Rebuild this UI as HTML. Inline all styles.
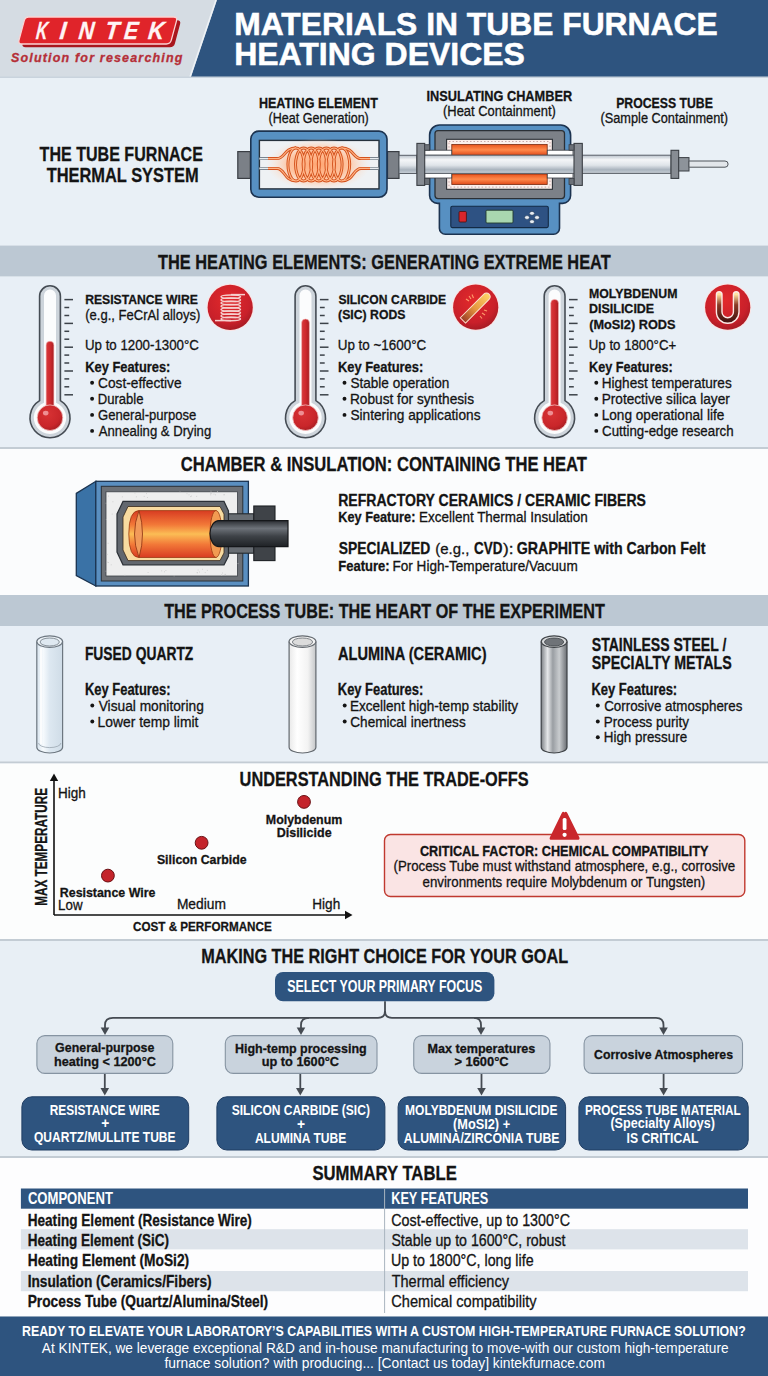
<!DOCTYPE html>
<html><head><meta charset="utf-8"><title>Materials in Tube Furnace Heating Devices</title>
<style>
html,body{margin:0;padding:0;background:#e9eff5;}
body{width:768px;height:1376px;overflow:hidden;}
svg{display:block;font-family:"Liberation Sans",sans-serif;}
</style></head><body>
<svg width="768" height="1376" viewBox="0 0 768 1376" fill="#141414">
<defs>
<linearGradient id="tubeG" x1="0" y1="0" x2="0" y2="1">
<stop offset="0" stop-color="#b9c2cb"/><stop offset="0.25" stop-color="#f4f6f8"/><stop offset="0.55" stop-color="#dfe4e9"/><stop offset="0.8" stop-color="#a9b3bd"/><stop offset="1" stop-color="#c9d0d7"/>
</linearGradient>
<linearGradient id="orangeBand" x1="0" y1="0" x2="0" y2="1">
<stop offset="0" stop-color="#e8541e"/><stop offset="0.5" stop-color="#ff8a4c"/><stop offset="1" stop-color="#e04a1a"/>
</linearGradient>
<radialGradient id="glow" cx="0.5" cy="0.5" r="0.5">
<stop offset="0" stop-color="#ffa673" stop-opacity="1"/><stop offset="0.55" stop-color="#ffc09a" stop-opacity="0.95"/><stop offset="1" stop-color="#ffe0cc" stop-opacity="0"/>
</radialGradient>
<linearGradient id="cyl" x1="0" y1="0" x2="0" y2="1">
<stop offset="0" stop-color="#d83c22"/><stop offset="0.3" stop-color="#f27838"/><stop offset="0.5" stop-color="#fbbd55"/><stop offset="0.72" stop-color="#f27838"/><stop offset="1" stop-color="#d83c22"/>
</linearGradient>
<linearGradient id="darkTube" x1="0" y1="0" x2="0" y2="1">
<stop offset="0" stop-color="#2b2e33"/><stop offset="0.3" stop-color="#6d7279"/><stop offset="0.6" stop-color="#3e4247"/><stop offset="1" stop-color="#1f2226"/>
</linearGradient>
<linearGradient id="steelG" x1="0" y1="0" x2="1" y2="0">
<stop offset="0" stop-color="#7d8186"/><stop offset="0.25" stop-color="#e6e8ea"/><stop offset="0.45" stop-color="#9a9ea3"/><stop offset="0.7" stop-color="#c9cccf"/><stop offset="1" stop-color="#6a6e73"/>
</linearGradient>
<linearGradient id="alumG" x1="0" y1="0" x2="1" y2="0">
<stop offset="0" stop-color="#e9e9e9"/><stop offset="0.3" stop-color="#ffffff"/><stop offset="0.7" stop-color="#f3f3f3"/><stop offset="1" stop-color="#c4c6c8"/>
</linearGradient>
<linearGradient id="quartzG" x1="0" y1="0" x2="1" y2="0">
<stop offset="0" stop-color="#d8e4ee"/><stop offset="0.25" stop-color="#f6fafd"/><stop offset="0.5" stop-color="#dde8f1"/><stop offset="1" stop-color="#cfdce7"/>
</linearGradient>
<linearGradient id="thR" x1="0" y1="0" x2="1" y2="0"><stop offset="0" stop-color="#d63a3c"/><stop offset="0.5" stop-color="#cf2a2e"/><stop offset="1" stop-color="#a81e22"/></linearGradient>
<radialGradient id="thB" cx="0.4" cy="0.35" r="0.7"><stop offset="0" stop-color="#d83234"/><stop offset="0.7" stop-color="#c9262a"/><stop offset="1" stop-color="#a51d21"/></radialGradient>
<radialGradient id="redIcon" cx="0.45" cy="0.35" r="0.7">
<stop offset="0" stop-color="#e2292b"/><stop offset="0.7" stop-color="#c9202a"/><stop offset="1" stop-color="#9e1a22"/>
</radialGradient>
<linearGradient id="uG" x1="0" y1="0" x2="0" y2="1">
<stop offset="0" stop-color="#ffe3a0"/><stop offset="0.4" stop-color="#8a3a26"/><stop offset="1" stop-color="#4a1612"/>
</linearGradient>
<linearGradient id="rodG" x1="0" y1="0" x2="1" y2="0">
<stop offset="0" stop-color="#9c3d26"/><stop offset="0.45" stop-color="#e4963f"/><stop offset="1" stop-color="#ffd468"/>
</linearGradient>
</defs>

<rect x="0" y="0" width="768.00" height="78.00" fill="#d5dce3" />
<polygon points="217,0 768,0 768,77 191,77" fill="#2e547f"/>
<line x1="216" y1="0" x2="190" y2="77" stroke="#eef2f6" stroke-width="1.5"/>
<rect x="0" y="77" width="768.00" height="168.00" fill="#e9f0f6" />
<rect x="0" y="76.5" width="768.00" height="1.50" fill="#c9d3dd" />
<rect x="0" y="245.6" width="768.00" height="31.00" fill="#bcc8d3" />
<rect x="0" y="276.6" width="768.00" height="170.40" fill="#e8eff6" />
<rect x="0" y="447" width="768.00" height="2.00" fill="#c3ccd4" />
<rect x="0" y="449" width="768.00" height="146.00" fill="#fbfcfd" />
<rect x="0" y="595" width="768.00" height="31.00" fill="#bcc8d3" />
<rect x="0" y="626" width="768.00" height="135.50" fill="#e8eff6" />
<rect x="0" y="761.5" width="768.00" height="2.00" fill="#c3ccd4" />
<rect x="0" y="763.5" width="768.00" height="175.50" fill="#fcfdfd" />
<rect x="0" y="939" width="768.00" height="2.00" fill="#c3ccd4" />
<rect x="0" y="941" width="768.00" height="215.00" fill="#e8eff5" />
<rect x="0" y="1156" width="768.00" height="2.00" fill="#c3ccd4" />
<rect x="0" y="1158" width="768.00" height="158.50" fill="#fdfdfe" />
<rect x="0" y="1316.5" width="768.00" height="59.50" fill="#2e547f" />
<path d="M28.7,17 L173.5,17 Q177.5,17 176.5,20.8 L171.3,40.2 Q170.3,44 166.3,44 L22,44 Q18,44 19,40.2 L24.2,20.8 Q25.2,17 28.7,17 Z" transform="translate(3.6,3.2)" fill="#a9161d"/>
<path d="M28.7,17 L173.5,17 Q177.5,17 176.5,20.8 L171.3,40.2 Q170.3,44 166.3,44 L22,44 Q18,44 19,40.2 L24.2,20.8 Q25.2,17 28.7,17 Z" fill="#e0242a" stroke="#fbd3d3" stroke-width="1.3"/>
<text x="35.5" y="38.7" font-size="24.71" font-weight="bold" font-style="italic" textLength="11.5" lengthAdjust="spacingAndGlyphs" fill="#fff4f4" stroke="#fff4f4" stroke-width="0.3" stroke="#fff4f4" stroke-width="0.5" transform="skewX(-6) translate(4.1,0)">K</text>
<text x="59.0" y="38.7" font-size="24.71" font-weight="bold" font-style="italic" textLength="6.5" lengthAdjust="spacingAndGlyphs" fill="#fff4f4" stroke="#fff4f4" stroke-width="0.3" stroke="#fff4f4" stroke-width="0.5" transform="skewX(-6) translate(4.1,0)">I</text>
<text x="78.0" y="38.7" font-size="24.71" font-weight="bold" font-style="italic" textLength="15.5" lengthAdjust="spacingAndGlyphs" fill="#fff4f4" stroke="#fff4f4" stroke-width="0.3" stroke="#fff4f4" stroke-width="0.5" transform="skewX(-6) translate(4.1,0)">N</text>
<text x="104.5" y="38.7" font-size="24.71" font-weight="bold" font-style="italic" textLength="14.0" lengthAdjust="spacingAndGlyphs" fill="#fff4f4" stroke="#fff4f4" stroke-width="0.3" stroke="#fff4f4" stroke-width="0.5" transform="skewX(-6) translate(4.1,0)">T</text>
<text x="123.5" y="38.7" font-size="24.71" font-weight="bold" font-style="italic" textLength="14.0" lengthAdjust="spacingAndGlyphs" fill="#fff4f4" stroke="#fff4f4" stroke-width="0.3" stroke="#fff4f4" stroke-width="0.5" transform="skewX(-6) translate(4.1,0)">E</text>
<text x="147.5" y="38.7" font-size="24.71" font-weight="bold" font-style="italic" textLength="16.0" lengthAdjust="spacingAndGlyphs" fill="#fff4f4" stroke="#fff4f4" stroke-width="0.3" stroke="#fff4f4" stroke-width="0.5" transform="skewX(-6) translate(4.1,0)">K</text>
<text x="11.0" y="61.8" font-size="12.50" font-weight="bold" font-style="italic" textLength="171.4" lengthAdjust="spacing" fill="#b52f38" stroke="#b52f38" stroke-width="0.3" >Solution for researching</text>
<text x="234.2" y="34.6" font-size="30.52" font-weight="bold" textLength="483.5" lengthAdjust="spacingAndGlyphs" fill="#ffffff" stroke="#ffffff" stroke-width="0.5">MATERIALS IN TUBE FURNACE</text>
<text x="234.2" y="65.2" font-size="30.81" font-weight="bold" textLength="290.7" lengthAdjust="spacingAndGlyphs" fill="#ffffff" stroke="#ffffff" stroke-width="0.5">HEATING DEVICES</text>
<text x="39.6" y="160.6" font-size="20.49" font-weight="bold" textLength="163.3" lengthAdjust="spacingAndGlyphs" stroke="#141414" stroke-width="0.3" >THE TUBE FURNACE</text>
<text x="46.7" y="182.2" font-size="20.93" font-weight="bold" textLength="151.9" lengthAdjust="spacingAndGlyphs" stroke="#141414" stroke-width="0.3" >THERMAL SYSTEM</text>
<text x="258.9" y="107.5" font-size="14.83" font-weight="bold" textLength="118.9" lengthAdjust="spacingAndGlyphs" stroke="#141414" stroke-width="0.3" >HEATING ELEMENT</text>
<text x="268.6" y="122.7" font-size="14.83" textLength="100.2" lengthAdjust="spacingAndGlyphs" stroke="#141414" stroke-width="0.3" >(Heat Generation)</text>
<text x="426.5" y="100.8" font-size="14.97" font-weight="bold" textLength="145.6" lengthAdjust="spacingAndGlyphs" stroke="#141414" stroke-width="0.3" >INSULATING CHAMBER</text>
<text x="443.0" y="116.2" font-size="14.83" textLength="112.8" lengthAdjust="spacingAndGlyphs" stroke="#141414" stroke-width="0.3" >(Heat Containment)</text>
<text x="616.2" y="107.5" font-size="14.83" font-weight="bold" textLength="96.7" lengthAdjust="spacingAndGlyphs" stroke="#141414" stroke-width="0.3" >PROCESS TUBE</text>
<text x="600.5" y="122.7" font-size="14.83" textLength="127.6" lengthAdjust="spacingAndGlyphs" stroke="#141414" stroke-width="0.3" >(Sample Containment)</text>
<text x="157.9" y="268.6" font-size="20.78" font-weight="bold" textLength="452.8" lengthAdjust="spacingAndGlyphs" stroke="#141414" stroke-width="0.3" >THE HEATING ELEMENTS: GENERATING EXTREME HEAT</text>
<text x="180.8" y="471.3" font-size="20.78" font-weight="bold" textLength="406.2" lengthAdjust="spacingAndGlyphs" stroke="#141414" stroke-width="0.3" >CHAMBER &amp; INSULATION: CONTAINING THE HEAT</text>
<text x="164.2" y="618.4" font-size="20.64" font-weight="bold" textLength="440.6" lengthAdjust="spacingAndGlyphs" stroke="#141414" stroke-width="0.3" >THE PROCESS TUBE: THE HEART OF THE EXPERIMENT</text>
<text x="239.6" y="785.6" font-size="20.49" font-weight="bold" textLength="289.0" lengthAdjust="spacingAndGlyphs" stroke="#141414" stroke-width="0.3" >UNDERSTANDING THE TRADE-OFFS</text>
<text x="201.2" y="963.1" font-size="20.49" font-weight="bold" textLength="366.9" lengthAdjust="spacingAndGlyphs" stroke="#141414" stroke-width="0.3" >MAKING THE RIGHT CHOICE FOR YOUR GOAL</text>
<text x="312.4" y="1180.3" font-size="20.35" font-weight="bold" textLength="144.4" lengthAdjust="spacingAndGlyphs" stroke="#141414" stroke-width="0.3" >SUMMARY TABLE</text>
<text x="85.2" y="304.2" font-size="13.66" font-weight="bold" textLength="112.6" lengthAdjust="spacingAndGlyphs" stroke="#141414" stroke-width="0.3" >RESISTANCE WIRE</text>
<text x="85.2" y="319.8" font-size="14.68" textLength="115.2" lengthAdjust="spacingAndGlyphs" stroke="#141414" stroke-width="0.3" >(e.g., FeCrAl alloys)</text>
<text x="85.0" y="350.2" font-size="14.68" textLength="113.9" lengthAdjust="spacingAndGlyphs" stroke="#141414" stroke-width="0.3" >Up to 1200-1300°C</text>
<text x="85.2" y="372.2" font-size="15.41" font-weight="bold" textLength="85.2" lengthAdjust="spacingAndGlyphs" stroke="#141414" stroke-width="0.3" >Key Features:</text>
<circle cx="92.1" cy="382.8" r="1.95" fill="#141414"/>
<text x="98.1" y="387.9" font-size="14.68" textLength="83.5" lengthAdjust="spacingAndGlyphs" stroke="#141414" stroke-width="0.3" >Cost-effective</text>
<circle cx="92.1" cy="398.8" r="1.95" fill="#141414"/>
<text x="97.7" y="403.9" font-size="14.68" textLength="45.8" lengthAdjust="spacingAndGlyphs" stroke="#141414" stroke-width="0.3" >Durable</text>
<circle cx="92.1" cy="414.9" r="1.95" fill="#141414"/>
<text x="98.1" y="420.0" font-size="14.68" textLength="98.2" lengthAdjust="spacingAndGlyphs" stroke="#141414" stroke-width="0.3" >General-purpose</text>
<circle cx="92.1" cy="430.9" r="1.95" fill="#141414"/>
<text x="98.8" y="436.0" font-size="14.68" textLength="112.4" lengthAdjust="spacingAndGlyphs" stroke="#141414" stroke-width="0.3" >Annealing &amp; Drying</text>
<text x="338.4" y="304.3" font-size="13.66" font-weight="bold" textLength="107.7" lengthAdjust="spacingAndGlyphs" stroke="#141414" stroke-width="0.3" >SILICON CARBIDE</text>
<text x="338.1" y="319.3" font-size="13.66" font-weight="bold" textLength="67.3" lengthAdjust="spacingAndGlyphs" stroke="#141414" stroke-width="0.3" >(SIC) RODS</text>
<text x="337.7" y="349.8" font-size="14.68" textLength="88.6" lengthAdjust="spacingAndGlyphs" stroke="#141414" stroke-width="0.3" >Up to ~1600°C</text>
<text x="337.9" y="372.2" font-size="15.41" font-weight="bold" textLength="85.4" lengthAdjust="spacingAndGlyphs" stroke="#141414" stroke-width="0.3" >Key Features:</text>
<circle cx="344.5" cy="382.8" r="1.95" fill="#141414"/>
<text x="350.4" y="387.9" font-size="14.68" textLength="98.9" lengthAdjust="spacingAndGlyphs" stroke="#141414" stroke-width="0.3" >Stable operation</text>
<circle cx="344.5" cy="398.8" r="1.95" fill="#141414"/>
<text x="349.9" y="403.9" font-size="14.68" textLength="124.1" lengthAdjust="spacingAndGlyphs" stroke="#141414" stroke-width="0.3" >Robust for synthesis</text>
<circle cx="344.5" cy="414.9" r="1.95" fill="#141414"/>
<text x="350.4" y="420.0" font-size="14.68" textLength="130.1" lengthAdjust="spacingAndGlyphs" stroke="#141414" stroke-width="0.3" >Sintering applications</text>
<text x="589.0" y="297.7" font-size="13.66" font-weight="bold" textLength="88.4" lengthAdjust="spacingAndGlyphs" stroke="#141414" stroke-width="0.3" >MOLYBDENUM</text>
<text x="589.0" y="313.3" font-size="13.66" font-weight="bold" textLength="65.2" lengthAdjust="spacingAndGlyphs" stroke="#141414" stroke-width="0.3" >DISILICIDE</text>
<text x="589.2" y="328.6" font-size="13.66" font-weight="bold" textLength="86.3" lengthAdjust="spacingAndGlyphs" stroke="#141414" stroke-width="0.3" >(MoSI2) RODS</text>
<text x="588.8" y="349.8" font-size="14.68" textLength="87.4" lengthAdjust="spacingAndGlyphs" stroke="#141414" stroke-width="0.3" >Up to 1800°C+</text>
<text x="589.0" y="372.2" font-size="15.41" font-weight="bold" textLength="83.8" lengthAdjust="spacingAndGlyphs" stroke="#141414" stroke-width="0.3" >Key Features:</text>
<circle cx="596.3" cy="382.8" r="1.95" fill="#141414"/>
<text x="601.7" y="387.9" font-size="14.68" textLength="130.0" lengthAdjust="spacingAndGlyphs" stroke="#141414" stroke-width="0.3" >Highest temperatures</text>
<circle cx="596.3" cy="398.8" r="1.95" fill="#141414"/>
<text x="601.7" y="403.9" font-size="14.68" textLength="128.1" lengthAdjust="spacingAndGlyphs" stroke="#141414" stroke-width="0.3" >Protective silica layer</text>
<circle cx="596.3" cy="414.9" r="1.95" fill="#141414"/>
<text x="601.7" y="420.0" font-size="14.68" textLength="122.6" lengthAdjust="spacingAndGlyphs" stroke="#141414" stroke-width="0.3" >Long operational life</text>
<circle cx="596.3" cy="430.9" r="1.95" fill="#141414"/>
<text x="602.1" y="436.0" font-size="14.68" textLength="131.5" lengthAdjust="spacingAndGlyphs" stroke="#141414" stroke-width="0.3" >Cutting-edge research</text>
<rect x="237.8" y="151.6" width="12.5" height="26.8" fill="#7b8087" stroke="#3a3e44" stroke-width="1.2"/>
<rect x="387.5" y="151.6" width="11.5" height="26.8" fill="#7b8087" stroke="#3a3e44" stroke-width="1.2"/>
<rect x="399" y="155.3" width="18" height="18.2" fill="url(#tubeG)" stroke="#5a6068" stroke-width="1"/>
<rect x="250.8" y="131.1" width="136.2" height="66.1" rx="8" fill="#5790c2" stroke="#1c3350" stroke-width="1.6"/>
<rect x="259.4" y="140.4" width="119.6" height="48.5" fill="#eef1f4" stroke="#26313c" stroke-width="1.4"/>
<ellipse cx="318.5" cy="164.5" rx="52" ry="26" fill="url(#glow)"/>
<path d="M259.5,158.6 L270,158.6 M259.5,168.4 L270,168.4 M368,158.6 L378.5,158.6 M368,168.4 L378.5,168.4" stroke="#7a848e" stroke-width="3" fill="none"/>
<path d="M259.5,158.6 L270,158.6 M259.5,168.4 L270,168.4 M368,158.6 L378.5,158.6 M368,168.4 L378.5,168.4" stroke="#e9edf1" stroke-width="1.1" fill="none"/>
<path d="M268,158.6 L277,158.6 C285,158.6 284,148 296,148 M268,168.4 L277,168.4 C285,168.4 284,181 296,181 M370,158.6 L361,158.6 C353,158.6 354,148 341.6,148 M370,168.4 L361,168.4 C353,168.4 354,181 341.6,181 M296.00,148 A8,16.5 0 1 0 296.01,148 M303.60,148 A8,16.5 0 1 0 303.61,148 M311.20,148 A8,16.5 0 1 0 311.21,148 M318.80,148 A8,16.5 0 1 0 318.81,148 M326.40,148 A8,16.5 0 1 0 326.41,148 M334.00,148 A8,16.5 0 1 0 334.01,148 M341.60,148 A8,16.5 0 1 0 341.61,148" fill="none" stroke="#d4521d" stroke-width="3"/>
<path d="M268,158.6 L277,158.6 C285,158.6 284,148 296,148 M268,168.4 L277,168.4 C285,168.4 284,181 296,181 M370,158.6 L361,158.6 C353,158.6 354,148 341.6,148 M370,168.4 L361,168.4 C353,168.4 354,181 341.6,181 M296.00,148 A8,16.5 0 1 0 296.01,148 M303.60,148 A8,16.5 0 1 0 303.61,148 M311.20,148 A8,16.5 0 1 0 311.21,148 M318.80,148 A8,16.5 0 1 0 318.81,148 M326.40,148 A8,16.5 0 1 0 326.41,148 M334.00,148 A8,16.5 0 1 0 334.01,148 M341.60,148 A8,16.5 0 1 0 341.61,148" fill="none" stroke="#ffb487" stroke-width="1.1"/>
<path d="M439.6,125 L560.6,125 A10,10 0 0 1 570.6,135 L570.6,195.4 A8,8 0 0 1 562.6,203.4 L559.5,203.4 L559.5,228.2 A6,6 0 0 1 553.5,234.2 L445.4,234.2 A6,6 0 0 1 439.4,228.2 L439.4,203.4 L437.6,203.4 A8,8 0 0 1 429.6,195.4 L429.6,135 A10,10 0 0 1 439.6,125 Z" fill="#5790c2" stroke="#1c3350" stroke-width="1.6"/>
<rect x="435" y="130.6" width="129.5" height="68" rx="3" fill="#7c8188" stroke="#2b3036" stroke-width="1.3"/>
<rect x="446.6" y="139.3" width="105.8" height="50" fill="#fbefec" stroke="#2b3036" stroke-width="1.1"/>
<rect x="449" y="141.5" width="101" height="45.6" fill="none" stroke="#c9a9a9" stroke-width="1" stroke-dasharray="1.5 2"/>
<rect x="451.8" y="144.5" width="95.4" height="10.7" fill="url(#orangeBand)" stroke="#7a2a10" stroke-width="0.8"/>
<rect x="451.8" y="174" width="95.4" height="10.5" fill="url(#orangeBand)" stroke="#7a2a10" stroke-width="0.8"/>
<rect x="424.7" y="150.2" width="27" height="5" fill="#ffffff" stroke="#3a3e44" stroke-width="0.8"/>
<rect x="424.7" y="173" width="27" height="5" fill="#ffffff" stroke="#3a3e44" stroke-width="0.8"/>
<rect x="547.3" y="150.2" width="25.7" height="5" fill="#ffffff" stroke="#3a3e44" stroke-width="0.8"/>
<rect x="547.3" y="173" width="25.7" height="5" fill="#ffffff" stroke="#3a3e44" stroke-width="0.8"/>
<rect x="417" y="155.2" width="254" height="18.2" fill="url(#tubeG)" stroke="#5a6068" stroke-width="1"/>
<rect x="416.9" y="143.4" width="7.8" height="42" fill="#878c93" stroke="#3a3e44" stroke-width="1.1"/>
<rect x="424.7" y="144.7" width="5" height="5.5" fill="#6c7178" stroke="#3a3e44" stroke-width="0.8"/>
<rect x="424.7" y="178.5" width="5" height="6" fill="#6c7178" stroke="#3a3e44" stroke-width="0.8"/>
<rect x="574" y="143.4" width="8.3" height="42" fill="#878c93" stroke="#3a3e44" stroke-width="1.1"/>
<rect x="569" y="144.7" width="5" height="5.5" fill="#6c7178" stroke="#3a3e44" stroke-width="0.8"/>
<rect x="569" y="178.5" width="5" height="6" fill="#6c7178" stroke="#3a3e44" stroke-width="0.8"/>
<rect x="450.8" y="206.2" width="97.5" height="21.4" rx="1.5" fill="#2e5283" stroke="#132a45" stroke-width="1.1"/>
<rect x="459" y="211.5" width="7.4" height="10.5" rx="1" fill="#d8262b" stroke="#4a1010" stroke-width="0.8"/>
<rect x="486" y="210.2" width="27" height="12.8" rx="1" fill="#a9d7b0" stroke="#233a2c" stroke-width="0.9"/>
<ellipse cx="532" cy="213.3" rx="2.4" ry="1.9" fill="#e8eef4" stroke="#1a2f48" stroke-width="0.5"/>
<ellipse cx="532" cy="221.7" rx="2.4" ry="1.9" fill="#e8eef4" stroke="#1a2f48" stroke-width="0.5"/>
<ellipse cx="527" cy="217.5" rx="2.4" ry="1.9" fill="#e8eef4" stroke="#1a2f48" stroke-width="0.5"/>
<ellipse cx="537" cy="217.5" rx="2.4" ry="1.9" fill="#e8eef4" stroke="#1a2f48" stroke-width="0.5"/>
<rect x="671" y="150.3" width="7.7" height="28.1" fill="#878c93" stroke="#3a3e44" stroke-width="1.1"/>
<rect x="678.7" y="157.6" width="10.3" height="13.4" fill="#8d939a" stroke="#3a3e44" stroke-width="1"/>
<path d="M689,161 L725,161 A3.1,3.1 0 0 1 725,167.2 L689,167.2 Z" fill="#e2e6ea" stroke="#4f555b" stroke-width="1"/>
<path d="M39.60,400.62 L39.60,296.20 A10.4,10.4 0 0 1 60.40,296.20 L60.40,400.62 A20.0,20.0 0 1 1 39.60,400.62 Z" fill="#cdd4db" stroke="#454c54" stroke-width="1.6"/>
<path d="M44.00,402.65 L44.00,295.40 A6.0,6.0 0 0 1 56.00,295.40 L56.00,402.65 A16.2,16.2 0 1 1 44.00,402.65 Z" fill="#fbfcfd"/>
<rect x="46.10" y="341.2" width="7.8" height="76.5" rx="3.9" fill="url(#thR)" stroke="#f3b9b9" stroke-width="0.6"/>
<circle cx="50.0" cy="417.7" r="12.8" fill="url(#thB)" stroke="#f3c0c0" stroke-width="0.8"/>
<ellipse cx="45.7" cy="413.1" rx="2.8" ry="2.4" fill="#ee8f93"/>
<line x1="64.4" y1="299.6" x2="73.0" y2="299.6" stroke="#3c4249" stroke-width="1.5"/>
<line x1="64.4" y1="307.5" x2="69.2" y2="307.5" stroke="#3c4249" stroke-width="1.5"/>
<line x1="64.4" y1="315.5" x2="69.2" y2="315.5" stroke="#3c4249" stroke-width="1.5"/>
<line x1="64.4" y1="323.4" x2="73.0" y2="323.4" stroke="#3c4249" stroke-width="1.5"/>
<line x1="64.4" y1="331.3" x2="69.2" y2="331.3" stroke="#3c4249" stroke-width="1.5"/>
<line x1="64.4" y1="339.2" x2="69.2" y2="339.2" stroke="#3c4249" stroke-width="1.5"/>
<line x1="64.4" y1="347.2" x2="73.0" y2="347.2" stroke="#3c4249" stroke-width="1.5"/>
<line x1="64.4" y1="355.1" x2="69.2" y2="355.1" stroke="#3c4249" stroke-width="1.5"/>
<line x1="64.4" y1="363.0" x2="69.2" y2="363.0" stroke="#3c4249" stroke-width="1.5"/>
<line x1="64.4" y1="371.0" x2="73.0" y2="371.0" stroke="#3c4249" stroke-width="1.5"/>
<line x1="64.4" y1="378.9" x2="69.2" y2="378.9" stroke="#3c4249" stroke-width="1.5"/>
<line x1="64.4" y1="386.8" x2="69.2" y2="386.8" stroke="#3c4249" stroke-width="1.5"/>
<line x1="64.4" y1="394.8" x2="73.0" y2="394.8" stroke="#3c4249" stroke-width="1.5"/>
<path d="M295.10,400.62 L295.10,296.20 A10.4,10.4 0 0 1 315.90,296.20 L315.90,400.62 A20.0,20.0 0 1 1 295.10,400.62 Z" fill="#cdd4db" stroke="#454c54" stroke-width="1.6"/>
<path d="M299.50,402.65 L299.50,295.40 A6.0,6.0 0 0 1 311.50,295.40 L311.50,402.65 A16.2,16.2 0 1 1 299.50,402.65 Z" fill="#fbfcfd"/>
<rect x="301.60" y="319" width="7.8" height="98.7" rx="3.9" fill="url(#thR)" stroke="#f3b9b9" stroke-width="0.6"/>
<circle cx="305.5" cy="417.7" r="12.8" fill="url(#thB)" stroke="#f3c0c0" stroke-width="0.8"/>
<ellipse cx="301.2" cy="413.1" rx="2.8" ry="2.4" fill="#ee8f93"/>
<line x1="319.9" y1="299.6" x2="328.5" y2="299.6" stroke="#3c4249" stroke-width="1.5"/>
<line x1="319.9" y1="307.5" x2="324.7" y2="307.5" stroke="#3c4249" stroke-width="1.5"/>
<line x1="319.9" y1="315.5" x2="324.7" y2="315.5" stroke="#3c4249" stroke-width="1.5"/>
<line x1="319.9" y1="323.4" x2="328.5" y2="323.4" stroke="#3c4249" stroke-width="1.5"/>
<line x1="319.9" y1="331.3" x2="324.7" y2="331.3" stroke="#3c4249" stroke-width="1.5"/>
<line x1="319.9" y1="339.2" x2="324.7" y2="339.2" stroke="#3c4249" stroke-width="1.5"/>
<line x1="319.9" y1="347.2" x2="328.5" y2="347.2" stroke="#3c4249" stroke-width="1.5"/>
<line x1="319.9" y1="355.1" x2="324.7" y2="355.1" stroke="#3c4249" stroke-width="1.5"/>
<line x1="319.9" y1="363.0" x2="324.7" y2="363.0" stroke="#3c4249" stroke-width="1.5"/>
<line x1="319.9" y1="371.0" x2="328.5" y2="371.0" stroke="#3c4249" stroke-width="1.5"/>
<line x1="319.9" y1="378.9" x2="324.7" y2="378.9" stroke="#3c4249" stroke-width="1.5"/>
<line x1="319.9" y1="386.8" x2="324.7" y2="386.8" stroke="#3c4249" stroke-width="1.5"/>
<line x1="319.9" y1="394.8" x2="328.5" y2="394.8" stroke="#3c4249" stroke-width="1.5"/>
<path d="M544.20,400.62 L544.20,296.20 A10.4,10.4 0 0 1 565.00,296.20 L565.00,400.62 A20.0,20.0 0 1 1 544.20,400.62 Z" fill="#cdd4db" stroke="#454c54" stroke-width="1.6"/>
<path d="M548.60,402.65 L548.60,295.40 A6.0,6.0 0 0 1 560.60,295.40 L560.60,402.65 A16.2,16.2 0 1 1 548.60,402.65 Z" fill="#fbfcfd"/>
<rect x="550.70" y="299.4" width="7.8" height="118.3" rx="3.9" fill="url(#thR)" stroke="#f3b9b9" stroke-width="0.6"/>
<circle cx="554.6" cy="417.7" r="12.8" fill="url(#thB)" stroke="#f3c0c0" stroke-width="0.8"/>
<ellipse cx="550.3" cy="413.1" rx="2.8" ry="2.4" fill="#ee8f93"/>
<line x1="569.0" y1="299.6" x2="577.6" y2="299.6" stroke="#3c4249" stroke-width="1.5"/>
<line x1="569.0" y1="307.5" x2="573.8" y2="307.5" stroke="#3c4249" stroke-width="1.5"/>
<line x1="569.0" y1="315.5" x2="573.8" y2="315.5" stroke="#3c4249" stroke-width="1.5"/>
<line x1="569.0" y1="323.4" x2="577.6" y2="323.4" stroke="#3c4249" stroke-width="1.5"/>
<line x1="569.0" y1="331.3" x2="573.8" y2="331.3" stroke="#3c4249" stroke-width="1.5"/>
<line x1="569.0" y1="339.2" x2="573.8" y2="339.2" stroke="#3c4249" stroke-width="1.5"/>
<line x1="569.0" y1="347.2" x2="577.6" y2="347.2" stroke="#3c4249" stroke-width="1.5"/>
<line x1="569.0" y1="355.1" x2="573.8" y2="355.1" stroke="#3c4249" stroke-width="1.5"/>
<line x1="569.0" y1="363.0" x2="573.8" y2="363.0" stroke="#3c4249" stroke-width="1.5"/>
<line x1="569.0" y1="371.0" x2="577.6" y2="371.0" stroke="#3c4249" stroke-width="1.5"/>
<line x1="569.0" y1="378.9" x2="573.8" y2="378.9" stroke="#3c4249" stroke-width="1.5"/>
<line x1="569.0" y1="386.8" x2="573.8" y2="386.8" stroke="#3c4249" stroke-width="1.5"/>
<line x1="569.0" y1="394.8" x2="577.6" y2="394.8" stroke="#3c4249" stroke-width="1.5"/>
<circle cx="230.2" cy="307.4" r="23.6" fill="#fbe3e3"/>
<circle cx="230.2" cy="307.4" r="22.6" fill="url(#redIcon)"/>
<g fill="none" stroke="#f6cfcd" stroke-width="1.5">
<path d="M221,296.7 Q221,294.9 231,294.9 Q240.5,294.9 240.5,296.7 Q240.5,298.3 231,298.3 Q221,298.3 221,296.7"/>
<path d="M221,299.9 Q221,298.1 231,298.1 Q240.5,298.1 240.5,299.9 Q240.5,301.5 231,301.5 Q221,301.5 221,299.9"/>
<path d="M221,303.1 Q221,301.3 231,301.3 Q240.5,301.3 240.5,303.1 Q240.5,304.7 231,304.7 Q221,304.7 221,303.1"/>
<path d="M221,306.3 Q221,304.5 231,304.5 Q240.5,304.5 240.5,306.3 Q240.5,307.9 231,307.9 Q221,307.9 221,306.3"/>
<path d="M221,309.5 Q221,307.7 231,307.7 Q240.5,307.7 240.5,309.5 Q240.5,311.1 231,311.1 Q221,311.1 221,309.5"/>
<path d="M221,312.7 Q221,310.9 231,310.9 Q240.5,310.9 240.5,312.7 Q240.5,314.3 231,314.3 Q221,314.3 221,312.7"/>
<path d="M221,315.9 Q221,314.1 231,314.1 Q240.5,314.1 240.5,315.9 Q240.5,317.5 231,317.5 Q221,317.5 221,315.9"/>
<path d="M221,319.1 Q221,317.3 231,317.3 Q240.5,317.3 240.5,319.1 Q240.5,320.7 231,320.7 Q221,320.7 221,319.1"/>
<line x1="231" y1="294.6" x2="245" y2="294.6"/><line x1="215" y1="320.6" x2="231" y2="320.6"/>
</g>
<circle cx="475.7" cy="307.2" r="23.6" fill="#fbe3e3"/>
<circle cx="475.7" cy="307.2" r="22.6" fill="url(#redIcon)"/>
<g transform="rotate(-45 475.5 307.5)">
<path d="M457.5,304 L490.8,304 A3.7,3.7 0 0 1 490.8,311.4 L457.5,311.4 Z" fill="url(#rodG)" stroke="#fde2d0" stroke-width="1"/>
</g>
<g stroke="#ff9a6a" stroke-width="1.1" fill="none">
<line x1="469" y1="296" x2="471" y2="299"/>
<line x1="472" y1="294.5" x2="473.5" y2="298"/>
<line x1="466" y1="299" x2="469" y2="301"/>
<line x1="482" y1="313" x2="485" y2="315"/>
<line x1="480" y1="316" x2="482" y2="318.5"/>
<line x1="484" y1="310" x2="487" y2="311"/>
</g>
<circle cx="727.7" cy="307.2" r="23.6" fill="#fbe3e3"/>
<circle cx="727.7" cy="307.2" r="22.6" fill="url(#redIcon)"/>
<path d="M719.2,294.5 L719.2,312 A8.5,8.5 0 0 0 736.2,312 L736.2,294.5" fill="none" stroke="#fde9e6" stroke-width="7" stroke-linecap="round"/>
<path d="M719.2,294.5 L719.2,312 A8.5,8.5 0 0 0 736.2,312 L736.2,294.5" fill="none" stroke="url(#uG)" stroke-width="4.2" stroke-linecap="round"/>
<polygon points="76.3,493.4 95.8,481.3 95.8,586 76.3,575.5" fill="#3a72a6" stroke="#1a3350" stroke-width="1.3"/>
<rect x="95.8" y="481.3" width="152.6" height="104.7" fill="#5a8fc1" stroke="#1a3350" stroke-width="1.3"/>
<rect x="101.3" y="486.3" width="141.5" height="94.7" fill="#6c7076" stroke="#2b3036" stroke-width="1"/>
<rect x="106" y="491.8" width="131.5" height="84.2" fill="#eeeeee" stroke="#3a3f45" stroke-width="0.8"/>
<path d="M190.1,496.6h0.8 M106.8,562.2h0.8 M240.4,531.0h0.8 M196.3,496.4h0.8 M146.0,493.6h0.8 M202.1,569.3h0.8 M165.5,570.5h0.8 M236.3,528.1h0.8 M197.7,570.0h0.8 M221.5,575.2h0.8 M222.0,573.0h0.8 M143.8,496.4h0.8 M221.1,575.1h0.8 M223.7,494.8h0.8 M188.6,494.8h0.8 M224.8,574.4h0.8 M173.7,575.9h0.8 M147.1,497.5h0.8 M186.6,493.7h0.8 M110.8,564.8h0.8 M147.7,572.5h0.8 M232.9,534.1h0.8 M238.0,535.3h0.8 M179.6,492.0h0.8 M107.7,543.3h0.8 M191.0,496.1h0.8 M108.0,496.1h0.8 M196.9,572.9h0.8 M210.0,493.3h0.8 M105.6,571.2h0.8 M224.7,574.9h0.8 M164.1,571.8h0.8 M135.9,496.8h0.8 M215.2,494.8h0.8 M106.8,554.4h0.8 M161.3,570.8h0.8 M217.0,491.6h0.8 M111.8,514.1h0.8 M210.6,491.2h0.8 M112.5,501.8h0.8 M121.9,496.8h0.8 M237.6,563.6h0.8 M232.4,522.8h0.8 M105.7,503.2h0.8 M210.3,494.8h0.8 M108.2,562.5h0.8 M234.5,540.2h0.8 M213.6,494.1h0.8 M206.9,570.4h0.8 M237.3,526.1h0.8 M199.0,572.0h0.8 M134.6,493.0h0.8 M124.5,575.3h0.8 M204.8,572.6h0.8 M196.8,572.5h0.8 M105.9,519.5h0.8 M234.9,524.2h0.8 M233.0,522.8h0.8 M235.7,548.2h0.8 M223.7,494.6h0.8 M211.3,493.6h0.8 M234.1,523.6h0.8" stroke="#c4c4c4" stroke-width="0.8"/>
<path d="M123,501.4 L224,501.4 L228.5,511 L228.5,556 L224,564.8 L123,564.8 L117,552 L117,514 Z" fill="#62676e" stroke="#2b3036" stroke-width="1.2"/>
<path d="M128,506.5 L220,506.5 L224,514 L224,553 L220,560.6 L128,560.6 L123,550 L123,517 Z" fill="#f8dba0" stroke="#3a2a1a" stroke-width="0.8"/>
<path d="M139,510.6 L216,510.6 L216,557.5 L139,557.5 Q128.8,557.5 128.8,534 Q128.8,510.6 139,510.6 Z" fill="url(#cyl)" stroke="#9a3a12" stroke-width="0.8"/>
<path d="M139,510.6 Q130,534 139,557.5 Q146,534 139,510.6 Z" fill="#f29a5a" stroke="#8a3010" stroke-width="0.8"/>
<ellipse cx="216" cy="534" rx="6" ry="23.5" fill="#f29a52" stroke="#9a3a12" stroke-width="0.8"/>
<rect x="228.5" y="513.8" width="25.3" height="39.4" fill="#686d73" stroke="#24282d" stroke-width="1.1"/>
<rect x="253.8" y="506" width="21.2" height="54.6" fill="#3f4348" stroke="#1e2125" stroke-width="1.1"/>
<path d="M219,520.6 L288,520.6 L288,546.6 L219,546.6 A9,13 0 0 1 219,520.6 Z" fill="url(#darkTube)" stroke="#15171a" stroke-width="1.2"/>
<text x="338.2" y="506.0" font-size="16.42" font-weight="bold" textLength="307.8" lengthAdjust="spacingAndGlyphs" stroke="#141414" stroke-width="0.3" >REFRACTORY CERAMICS / CERAMIC FIBERS</text>
<text x="338.3" y="522.2" font-size="14.39" font-weight="bold" textLength="77.1" lengthAdjust="spacingAndGlyphs" stroke="#141414" stroke-width="0.3" >Key Feature:</text>
<text x="419.1" y="522.2" font-size="14.39" textLength="168.7" lengthAdjust="spacingAndGlyphs" stroke="#141414" stroke-width="0.3" >Excellent Thermal Insulation</text>
<text x="338.8" y="554.2" font-size="15.99" font-weight="bold" textLength="91.5" lengthAdjust="spacingAndGlyphs" stroke="#141414" stroke-width="0.3" >SPECIALIZED</text>
<text x="435.3" y="554.2" font-size="15.12" textLength="34.0" lengthAdjust="spacingAndGlyphs" stroke="#141414" stroke-width="0.3" >(e.g.,</text>
<text x="474.0" y="554.2" font-size="15.99" font-weight="bold" textLength="28.4" lengthAdjust="spacingAndGlyphs" stroke="#141414" stroke-width="0.3" >CVD</text>
<text x="502.9" y="554.2" font-size="15.12" textLength="10.6" lengthAdjust="spacingAndGlyphs" stroke="#141414" stroke-width="0.3" >):</text>
<text x="516.8" y="554.2" font-size="15.99" font-weight="bold" textLength="188.7" lengthAdjust="spacingAndGlyphs" stroke="#141414" stroke-width="0.3" >GRAPHITE with Carbon Felt</text>
<text x="338.3" y="571.1" font-size="14.39" font-weight="bold" textLength="51.3" lengthAdjust="spacingAndGlyphs" stroke="#141414" stroke-width="0.3" >Feature:</text>
<text x="392.5" y="571.1" font-size="14.39" textLength="185.2" lengthAdjust="spacingAndGlyphs" stroke="#141414" stroke-width="0.3" >For High-Temperature/Vacuum</text>
<path d="M36.800000000000004,641.6 L36.800000000000004,747.2 A12.9,5.8 0 0 0 62.6,747.2 L62.6,641.6" fill="url(#quartzG)" stroke="#6d7780" stroke-width="1.2"/>
<ellipse cx="49.7" cy="641.6" rx="12.9" ry="5.8" fill="#eef4f9" stroke="#6d7780" stroke-width="1.2"/>
<ellipse cx="49.7" cy="642.0" rx="9.6" ry="4.0" fill="#dfe9f1" stroke="#6d7780" stroke-width="0.8"/>
<path d="M38.5,743 A11.2,4.6 0 0 0 60.9,743" fill="none" stroke="#9aa6b0" stroke-width="0.8"/>
<line x1="41" y1="648" x2="41" y2="744" stroke="#ffffff" stroke-width="2" opacity="0.8"/>
<path d="M289.1,641.6 L289.1,747.2 A13.4,5.8 0 0 0 315.9,747.2 L315.9,641.6" fill="url(#alumG)" stroke="#62686e" stroke-width="1.2"/>
<ellipse cx="302.5" cy="641.6" rx="13.4" ry="5.8" fill="#f4f4f4" stroke="#62686e" stroke-width="1.2"/>
<ellipse cx="302.5" cy="642.0" rx="10.1" ry="4.0" fill="#dcdcdc" stroke="#62686e" stroke-width="0.8"/>
<path d="M541.2,641.6 L541.2,747.2 A12.9,5.8 0 0 0 567.0,747.2 L567.0,641.6" fill="url(#steelG)" stroke="#3e4246" stroke-width="1.2"/>
<ellipse cx="554.1" cy="641.6" rx="12.9" ry="5.8" fill="#d8dadc" stroke="#3e4246" stroke-width="1.2"/>
<ellipse cx="554.1" cy="642.0" rx="9.6" ry="4.0" fill="#6f7378" stroke="#3e4246" stroke-width="0.8"/>
<text x="84.9" y="660.2" font-size="17.88" font-weight="bold" textLength="108.4" lengthAdjust="spacingAndGlyphs" stroke="#141414" stroke-width="0.3" >FUSED QUARTZ</text>
<text x="85.0" y="694.5" font-size="15.77" font-weight="bold" textLength="85.5" lengthAdjust="spacingAndGlyphs" stroke="#141414" stroke-width="0.3" >Key Features:</text>
<circle cx="92.3" cy="705.5" r="1.95" fill="#141414"/>
<text x="98.7" y="710.5" font-size="14.53" textLength="105.1" lengthAdjust="spacingAndGlyphs" stroke="#141414" stroke-width="0.3" >Visual monitoring</text>
<circle cx="92.3" cy="721.5" r="1.95" fill="#141414"/>
<text x="97.6" y="726.5" font-size="14.53" textLength="100.8" lengthAdjust="spacingAndGlyphs" stroke="#141414" stroke-width="0.3" >Lower temp limit</text>
<text x="338.0" y="660.2" font-size="17.88" font-weight="bold" textLength="148.5" lengthAdjust="spacingAndGlyphs" stroke="#141414" stroke-width="0.3" >ALUMINA (CERAMIC)</text>
<text x="337.8" y="694.5" font-size="15.77" font-weight="bold" textLength="85.5" lengthAdjust="spacingAndGlyphs" stroke="#141414" stroke-width="0.3" >Key Features:</text>
<circle cx="344.7" cy="705.5" r="1.95" fill="#141414"/>
<text x="349.9" y="710.6" font-size="14.53" textLength="168.1" lengthAdjust="spacingAndGlyphs" stroke="#141414" stroke-width="0.3" >Excellent high-temp stability</text>
<circle cx="344.7" cy="721.5" r="1.95" fill="#141414"/>
<text x="350.3" y="726.6" font-size="14.53" textLength="115.4" lengthAdjust="spacingAndGlyphs" stroke="#141414" stroke-width="0.3" >Chemical inertness</text>
<text x="591.8" y="651.0" font-size="17.88" font-weight="bold" textLength="134.5" lengthAdjust="spacingAndGlyphs" stroke="#141414" stroke-width="0.3" >STAINLESS STEEL /</text>
<text x="591.8" y="669.0" font-size="17.88" font-weight="bold" textLength="139.9" lengthAdjust="spacingAndGlyphs" stroke="#141414" stroke-width="0.3" >SPECIALTY METALS</text>
<text x="591.4" y="694.5" font-size="15.77" font-weight="bold" textLength="85.8" lengthAdjust="spacingAndGlyphs" stroke="#141414" stroke-width="0.3" >Key Features:</text>
<circle cx="597.8" cy="705.5" r="1.95" fill="#141414"/>
<text x="604.2" y="710.6" font-size="14.53" textLength="138.2" lengthAdjust="spacingAndGlyphs" stroke="#141414" stroke-width="0.3" >Corrosive atmospheres</text>
<circle cx="597.8" cy="721.5" r="1.95" fill="#141414"/>
<text x="603.8" y="726.6" font-size="14.53" textLength="85.1" lengthAdjust="spacingAndGlyphs" stroke="#141414" stroke-width="0.3" >Process purity</text>
<circle cx="597.8" cy="737.3" r="1.95" fill="#141414"/>
<text x="603.8" y="742.4" font-size="14.53" textLength="83.3" lengthAdjust="spacingAndGlyphs" stroke="#141414" stroke-width="0.3" >High pressure</text>
<g stroke="#111" stroke-width="1.6" fill="none"><line x1="54" y1="779" x2="54" y2="915"/><line x1="54" y1="915" x2="346" y2="915"/></g>
<polygon points="54,773.5 49.8,781 58.2,781" fill="#111"/>
<polygon points="352.5,915 345,910.8 345,919.2" fill="#111"/>
<text x="47.0" y="846.9" font-size="15.63" font-weight="bold" text-anchor="middle" textLength="117.8" lengthAdjust="spacingAndGlyphs" stroke="#141414" stroke-width="0.3" transform="rotate(-90 47 846.9)">MAX TEMPERATURE</text>
<text x="58.1" y="797.5" font-size="13.81" textLength="27.7" lengthAdjust="spacingAndGlyphs" stroke="#141414" stroke-width="0.3" >High</text>
<text x="58.1" y="910.0" font-size="13.81" textLength="24.4" lengthAdjust="spacingAndGlyphs" stroke="#141414" stroke-width="0.3" >Low</text>
<text x="176.9" y="909.0" font-size="13.81" textLength="49.0" lengthAdjust="spacingAndGlyphs" stroke="#141414" stroke-width="0.3" >Medium</text>
<text x="312.3" y="909.0" font-size="13.81" textLength="27.9" lengthAdjust="spacingAndGlyphs" stroke="#141414" stroke-width="0.3" >High</text>
<text x="133.0" y="931.2" font-size="13.44" font-weight="bold" textLength="138.7" lengthAdjust="spacingAndGlyphs" stroke="#141414" stroke-width="0.3" >COST &amp; PERFORMANCE</text>
<circle cx="107.9" cy="875.6" r="6.4" fill="#c4242b" stroke="#6a1014" stroke-width="1"/>
<circle cx="201.6" cy="842.8" r="6.4" fill="#c4242b" stroke="#6a1014" stroke-width="1"/>
<circle cx="304" cy="801.9" r="6.4" fill="#c4242b" stroke="#6a1014" stroke-width="1"/>
<text x="59.8" y="896.5" font-size="13.08" font-weight="bold" textLength="95.6" lengthAdjust="spacingAndGlyphs" stroke="#141414" stroke-width="0.3" >Resistance Wire</text>
<text x="156.9" y="863.8" font-size="13.37" font-weight="bold" textLength="89.7" lengthAdjust="spacingAndGlyphs" stroke="#141414" stroke-width="0.3" >Silicon Carbide</text>
<text x="265.8" y="823.8" font-size="13.37" font-weight="bold" textLength="76.5" lengthAdjust="spacingAndGlyphs" stroke="#141414" stroke-width="0.3" >Molybdenum</text>
<text x="276.7" y="837.2" font-size="13.37" font-weight="bold" textLength="54.9" lengthAdjust="spacingAndGlyphs" stroke="#141414" stroke-width="0.3" >Disilicide</text>
<rect x="384.5" y="834.5" width="360.3" height="62" rx="6" fill="#fae4e4" stroke="#c0392f" stroke-width="1.4"/>
<path d="M564.5,812.5 Q566,811 567.3,813 L579.4,837.5 Q580,839.8 577.5,839.8 L551.5,839.8 Q549,839.8 549.8,837.5 L561.8,813 Q563,811 564.5,812.5 Z" fill="#c9272c"/>
<rect x="562.7" y="818" width="3.8" height="12" rx="1.5" fill="#ffffff"/><circle cx="564.6" cy="834.8" r="2.1" fill="#ffffff"/>
<text x="419.9" y="856.0" font-size="13.95" font-weight="bold" textLength="288.6" lengthAdjust="spacingAndGlyphs" stroke="#141414" stroke-width="0.3" >CRITICAL FACTOR: CHEMICAL COMPATIBILITY</text>
<text x="393.5" y="870.8" font-size="13.81" textLength="341.7" lengthAdjust="spacingAndGlyphs" stroke="#141414" stroke-width="0.3" >(Process Tube must withstand atmosphere, e.g., corrosive</text>
<text x="422.5" y="886.5" font-size="13.81" textLength="282.7" lengthAdjust="spacingAndGlyphs" stroke="#141414" stroke-width="0.3" >environments require Molybdenum or Tungsten)</text>
<rect x="275" y="972" width="219.4" height="29.3" rx="8" fill="#2e547f"/>
<text x="287.2" y="991.6" font-size="15.84" font-weight="bold" textLength="195.2" lengthAdjust="spacingAndGlyphs" fill="#ffffff" >SELECT YOUR PRIMARY FOCUS</text>
<g fill="none" stroke="#454b52" stroke-width="1.8">
<path d="M385,1001.3 L385,1011 Q385,1017.8 378,1017.8 L113,1017.8 Q105,1017.8 105,1025 L105,1029"/>
<path d="M385,1011 Q385,1017.8 392,1017.8 L656,1017.8 Q663.5,1017.8 663.5,1025 L663.5,1029"/>
<path d="M309,1017.8 Q301,1017.8 301,1025 L301,1029"/>
<path d="M474,1017.8 Q481,1017.8 481,1025 L481,1029"/>
<line x1="104.8" y1="1074" x2="104.8" y2="1089"/>
<line x1="300.3" y1="1074" x2="300.3" y2="1089"/>
<line x1="481.5" y1="1074" x2="481.5" y2="1089"/>
<line x1="663.6" y1="1074" x2="663.6" y2="1089"/>
</g>
<polygon points="105,1035 100.7,1027.5 109.3,1027.5" fill="#454b52"/>
<polygon points="301,1035 296.7,1027.5 305.3,1027.5" fill="#454b52"/>
<polygon points="481,1035 476.7,1027.5 485.3,1027.5" fill="#454b52"/>
<polygon points="663.5,1035 659.2,1027.5 667.8,1027.5" fill="#454b52"/>
<polygon points="104.8,1095.5 100.5,1088 109.1,1088" fill="#454b52"/>
<polygon points="300.3,1095.5 296.0,1088 304.6,1088" fill="#454b52"/>
<polygon points="481.5,1095.5 477.2,1088 485.8,1088" fill="#454b52"/>
<polygon points="663.6,1095.5 659.3000000000001,1088 667.9,1088" fill="#454b52"/>
<rect x="36.9" y="1035.6" width="135.9" height="37.8" rx="8" fill="#c9d3dd" stroke="#8694a2" stroke-width="1.1"/>
<rect x="225.3" y="1035.6" width="151.7" height="37.8" rx="8" fill="#c9d3dd" stroke="#8694a2" stroke-width="1.1"/>
<rect x="413.75" y="1035.6" width="136.2" height="37.8" rx="8" fill="#c9d3dd" stroke="#8694a2" stroke-width="1.1"/>
<rect x="584.1" y="1035.6" width="158.4" height="37.8" rx="8" fill="#c9d3dd" stroke="#8694a2" stroke-width="1.1"/>
<text x="55.1" y="1052.3" font-size="13.37" font-weight="bold" textLength="99.3" lengthAdjust="spacingAndGlyphs" stroke="#141414" stroke-width="0.3" >General-purpose</text>
<text x="53.9" y="1065.9" font-size="13.37" font-weight="bold" textLength="102.0" lengthAdjust="spacingAndGlyphs" stroke="#141414" stroke-width="0.3" >heating &lt; 1200°C</text>
<text x="234.9" y="1052.6" font-size="13.37" font-weight="bold" textLength="131.8" lengthAdjust="spacingAndGlyphs" stroke="#141414" stroke-width="0.3" >High-temp processing</text>
<text x="261.7" y="1066.4" font-size="13.37" font-weight="bold" textLength="77.4" lengthAdjust="spacingAndGlyphs" stroke="#141414" stroke-width="0.3" >up to 1600°C</text>
<text x="427.5" y="1052.6" font-size="13.37" font-weight="bold" textLength="107.8" lengthAdjust="spacingAndGlyphs" stroke="#141414" stroke-width="0.3" >Max temperatures</text>
<text x="454.4" y="1066.4" font-size="13.37" font-weight="bold" textLength="54.3" lengthAdjust="spacingAndGlyphs" stroke="#141414" stroke-width="0.3" >&gt; 1600°C</text>
<text x="594.1" y="1058.5" font-size="13.52" font-weight="bold" textLength="138.9" lengthAdjust="spacingAndGlyphs" stroke="#141414" stroke-width="0.3" >Corrosive Atmospheres</text>
<rect x="21.9" y="1096.8" width="166.8" height="53.2" rx="10" fill="#2e547f" stroke="#1f3d63" stroke-width="1"/>
<rect x="216.9" y="1096.8" width="168.0" height="53.2" rx="10" fill="#2e547f" stroke="#1f3d63" stroke-width="1"/>
<rect x="398.1" y="1096.8" width="167.5" height="53.2" rx="10" fill="#2e547f" stroke="#1f3d63" stroke-width="1"/>
<rect x="578.9" y="1096.8" width="169.3" height="53.2" rx="10" fill="#2e547f" stroke="#1f3d63" stroke-width="1"/>
<text x="49.7" y="1114.8" font-size="14.83" font-weight="bold" textLength="110.1" lengthAdjust="spacingAndGlyphs" fill="#ffffff" >RESISTANCE WIRE</text>
<text x="105.3" y="1128.2" font-size="13.81" font-weight="bold" text-anchor="middle" fill="#ffffff" >+</text>
<text x="34.0" y="1142.0" font-size="14.83" font-weight="bold" textLength="141.5" lengthAdjust="spacingAndGlyphs" fill="#ffffff" >QUARTZ/MULLITE TUBE</text>
<text x="231.7" y="1115.4" font-size="14.83" font-weight="bold" textLength="138.2" lengthAdjust="spacingAndGlyphs" fill="#ffffff" >SILICON CARBIDE (SIC)</text>
<text x="301.0" y="1128.6" font-size="13.81" font-weight="bold" text-anchor="middle" fill="#ffffff" >+</text>
<text x="254.9" y="1142.9" font-size="14.83" font-weight="bold" textLength="91.4" lengthAdjust="spacingAndGlyphs" fill="#ffffff" >ALUMINA TUBE</text>
<text x="405.1" y="1115.4" font-size="14.83" font-weight="bold" textLength="152.3" lengthAdjust="spacingAndGlyphs" fill="#ffffff" >MOLYBDENUM DISILICIDE</text>
<text x="453.0" y="1128.6" font-size="13.95" font-weight="bold" textLength="57.1" lengthAdjust="spacingAndGlyphs" fill="#ffffff" >(MoSI2) +</text>
<text x="403.8" y="1142.9" font-size="14.83" font-weight="bold" textLength="155.7" lengthAdjust="spacingAndGlyphs" fill="#ffffff" >ALUMINA/ZIRCONIA TUBE</text>
<text x="584.9" y="1115.4" font-size="14.83" font-weight="bold" textLength="155.8" lengthAdjust="spacingAndGlyphs" fill="#ffffff" >PROCESS TUBE MATERIAL</text>
<text x="610.4" y="1128.2" font-size="13.95" font-weight="bold" textLength="104.6" lengthAdjust="spacingAndGlyphs" fill="#ffffff" >(Specialty Alloys)</text>
<text x="626.6" y="1142.9" font-size="14.83" font-weight="bold" textLength="71.9" lengthAdjust="spacingAndGlyphs" fill="#ffffff" >IS CRITICAL</text>
<rect x="20.9" y="1188.5" width="727.1" height="20.2" fill="#2e547f"/>
<rect x="20.9" y="1229.2" width="727.10" height="20.20" fill="#dde3ea" />
<rect x="20.9" y="1271" width="727.10" height="20.20" fill="#dde3ea" />
<line x1="384.6" y1="1188.5" x2="384.6" y2="1313" stroke="#a9b4bf" stroke-width="1"/>
<text x="27.9" y="1204.4" font-size="15.99" font-weight="bold" textLength="85.0" lengthAdjust="spacingAndGlyphs" fill="#ffffff" >COMPONENT</text>
<text x="391.2" y="1204.4" font-size="15.99" font-weight="bold" textLength="97.1" lengthAdjust="spacingAndGlyphs" fill="#ffffff" >KEY FEATURES</text>
<text x="27.7" y="1225.5" font-size="15.84" font-weight="bold" textLength="224.2" lengthAdjust="spacingAndGlyphs" stroke="#141414" stroke-width="0.3" >Heating Element (Resistance Wire)</text>
<text x="391.3" y="1225.5" font-size="15.84" textLength="178.7" lengthAdjust="spacingAndGlyphs" stroke="#141414" stroke-width="0.3" >Cost-effective, up to 1300°C</text>
<text x="27.7" y="1246.0" font-size="15.84" font-weight="bold" textLength="141.3" lengthAdjust="spacingAndGlyphs" stroke="#141414" stroke-width="0.3" >Heating Element (SiC)</text>
<text x="391.4" y="1246.0" font-size="15.84" textLength="174.1" lengthAdjust="spacingAndGlyphs" stroke="#141414" stroke-width="0.3" >Stable up to 1600°C, robust</text>
<text x="27.7" y="1265.9" font-size="15.84" font-weight="bold" textLength="161.5" lengthAdjust="spacingAndGlyphs" stroke="#141414" stroke-width="0.3" >Heating Element (MoSi2)</text>
<text x="390.9" y="1265.9" font-size="15.84" textLength="142.7" lengthAdjust="spacingAndGlyphs" stroke="#141414" stroke-width="0.3" >Up to 1800°C, long life</text>
<text x="27.7" y="1287.0" font-size="15.84" font-weight="bold" textLength="183.9" lengthAdjust="spacingAndGlyphs" stroke="#141414" stroke-width="0.3" >Insulation (Ceramics/Fibers)</text>
<text x="391.7" y="1287.0" font-size="15.84" textLength="117.2" lengthAdjust="spacingAndGlyphs" stroke="#141414" stroke-width="0.3" >Thermal efficiency</text>
<text x="27.7" y="1307.0" font-size="15.84" font-weight="bold" textLength="240.4" lengthAdjust="spacingAndGlyphs" stroke="#141414" stroke-width="0.3" >Process Tube (Quartz/Alumina/Steel)</text>
<text x="391.3" y="1307.0" font-size="15.84" textLength="145.3" lengthAdjust="spacingAndGlyphs" stroke="#141414" stroke-width="0.3" >Chemical compatibility</text>
<text x="22.0" y="1336.4" font-size="14.97" font-weight="bold" textLength="723.7" lengthAdjust="spacingAndGlyphs" fill="#ffffff" >READY TO ELEVATE YOUR LABORATORY’S CAPABILITIES WITH A CUSTOM HIGH-TEMPERATURE FURNACE SOLUTION?</text>
<text x="41.8" y="1352.7" font-size="15.55" textLength="686.8" lengthAdjust="spacingAndGlyphs" fill="#ffffff" >At KINTEK, we leverage exceptional R&amp;D and in-house manufacturing to move-with our custom high-temperature</text>
<text x="164.4" y="1367.6" font-size="15.55" textLength="440.5" lengthAdjust="spacingAndGlyphs" fill="#ffffff" >furnace solution? with producing... [Contact us today] kintekfurnace.com</text>
</svg></body></html>
